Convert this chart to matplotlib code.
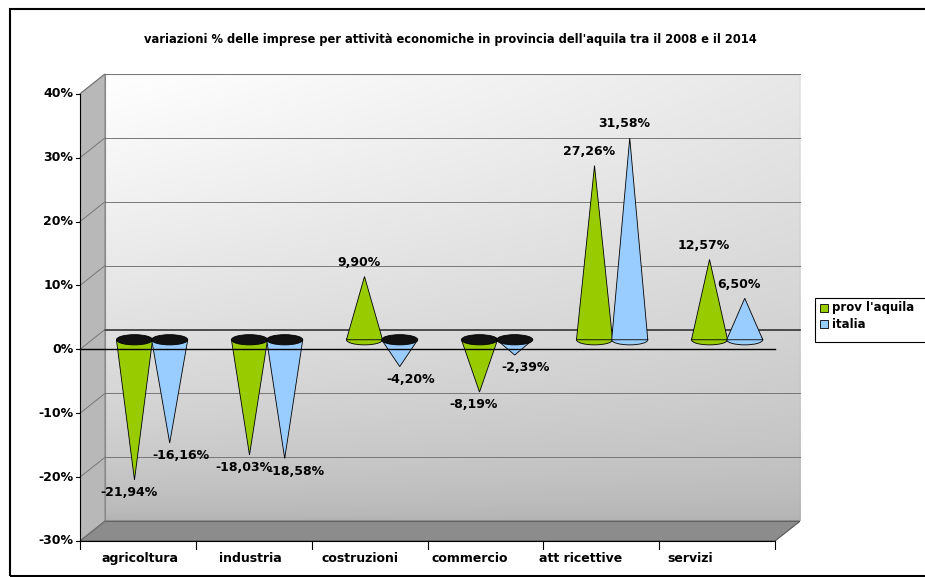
import numpy as np
import matplotlib.pyplot as plt
from matplotlib.patches import Polygon, Ellipse, Rectangle

categories = ['agricoltura', 'industria', 'costruzioni', 'commercio', 'att ricettive', 'servizi']
prov = [-21.94, -18.03, 9.90, -8.19, 27.26, 12.57]
italia = [-16.16, -18.58, -4.20, -2.39, 31.58, 6.50]
series_names = ["prov l'aquila", 'italia']
yticks = [-30, -20, -10, 0, 10, 20, 30, 40]

GREEN = '#99cc00'
BLUE = '#99ccff'

dx, dy = 0.227, 3.1
x0, x1 = -0.545, 5.77

fig = plt.figure(figsize=(9.25, 5.77), dpi=100)
ax = fig.add_axes([80 / 925, 36 / 577, 720 / 925, 467 / 577])
ax.set_xlim(x0, x1 + dx)
ax.set_ylim(-30, 40 + dy)
ax.axis('off')

# back wall gradient
gx = np.linspace(1, 0.55, 256).reshape(1, -1)
gy = np.linspace(1, 0, 256).reshape(-1, 1)
grad = 0.7 + 0.3 * (gx * gy) ** 0.6
im = ax.imshow(np.stack([grad] * 3, axis=-1), extent=(x0 + dx, x1 + dx, -30 + dy, 40 + dy),
               aspect='auto', zorder=0.5)
ax.set_xlim(x0, x1 + dx)
ax.set_ylim(-30, 40 + dy)
ax.add_patch(Polygon([(x0 + dx, -30 + dy), (x1 + dx, -30 + dy), (x1 + dx, 40 + dy), (x0 + dx, 40 + dy)],
                     closed=True, fc='none', ec='#888888', lw=0.8, zorder=1))
# side wall
ax.add_patch(Polygon([(x0, -30), (x0 + dx, -30 + dy), (x0 + dx, 40 + dy), (x0, 40)],
                     closed=True, fc='#b8b8b8', ec='#888888', lw=0.8, zorder=1))
# floor
ax.add_patch(Polygon([(x0, -30), (x1, -30), (x1 + dx, -30 + dy), (x0 + dx, -30 + dy)],
                     closed=True, fc='#8c8c8c', ec='#555555', lw=0.8, zorder=1))

for t in yticks:
    lw = 1.2 if t == 0 else 0.7
    col = '#333333' if t == 0 else '#777777'
    if -30 < t <= 40:
        ax.plot([x0 + dx, x1 + dx], [t + dy, t + dy], color=col, lw=lw, zorder=1.5, clip_on=False)
    ax.plot([x0, x0 + dx], [t, t + dy], color='#777777', lw=0.7, zorder=1.5, clip_on=False)
    ax.plot([x0 - 0.04, x0], [t, t], color='black', lw=0.8, clip_on=False)
    ax.text(x0 - 0.06, t, f'{t}%', ha='right', va='center', fontsize=9, fontweight='bold')

# front axes lines
ax.plot([x0, x0], [-30, 40], color='black', lw=0.8, clip_on=False)
ax.plot([x0, x1], [0, 0], color='black', lw=1.0, zorder=6, clip_on=False)
ax.plot([x0, x1], [-30, -30], color='black', lw=0.8, clip_on=False)
for i in range(len(categories) + 1):
    xb = x0 + i * (x1 - x0) / len(categories)
    ax.plot([xb, xb], [-30, -31.2], color='black', lw=0.8, clip_on=False)
for i, c in enumerate(categories):
    ax.text(i, -31.8, c, ha='center', va='top', fontsize=9, fontweight='bold')

hw, hh, base = 0.164, 0.8, 1.5


def cone(xc, v, fc):
    top = base + v
    order = 3 if v >= 0 else 5
    ax.add_patch(Polygon([(xc - hw, base), (xc + hw, base), (xc, top)], closed=True,
                         fc=fc, ec='black', lw=0.6, zorder=order))
    ell_fc = fc if v >= 0 else '#111111'
    ax.add_patch(Ellipse((xc, base), 2 * hw, 2 * hh, fc=ell_fc, ec='black', lw=0.6,
                         zorder=order - 1 if v >= 0 else order + 0.5))


for i in range(len(categories)):
    off = -0.05 + 0.045 * i
    xg, xb = i + off, i + off + 0.32
    cone(xg, prov[i], GREEN)
    cone(xb, italia[i], BLUE)
    for xc, v, dxl in [(xg, prov[i], -0.05), (xb, italia[i], 0.1)]:
        s = f'{v:.2f}%'.replace('.', ',')
        if v >= 0:
            ax.text(xc - 0.05, base + v + 1.2, s, ha='center', va='bottom', fontsize=9,
                    fontweight='bold', zorder=8)
        else:
            ax.text(xc + dxl, base + v - 1.0, s, ha='center', va='top', fontsize=9,
                    fontweight='bold', zorder=8)

fig.text(450 / 925, 1 - 40 / 577,
         "variazioni % delle imprese per attività economiche in provincia dell'aquila tra il 2008 e il 2014",
         ha='center', va='center', fontsize=8.3, fontweight='bold')

# legend
fig.patches.append(Rectangle((815 / 925, 1 - 342 / 577), 0.2, 44 / 577, transform=fig.transFigure,
                             fc='white', ec='black', lw=0.8))
for k, (name, col) in enumerate(zip(series_names, [GREEN, BLUE])):
    yy = 1 - (308 + 16 * k) / 577
    fig.patches.append(Rectangle((820 / 925, yy - 4 / 577), 8 / 925, 8 / 577, transform=fig.transFigure,
                                 fc=col, ec='black', lw=0.6))
    fig.text(832 / 925, yy, name, ha='left', va='center', fontsize=8.5, fontweight='bold')

fig.patches.append(Rectangle((10 / 925, 0.002), 1.0, 1 - 10 / 577, transform=fig.transFigure,
                             fc='none', ec='black', lw=1.5))

fig.savefig('out.png', dpi=100)
